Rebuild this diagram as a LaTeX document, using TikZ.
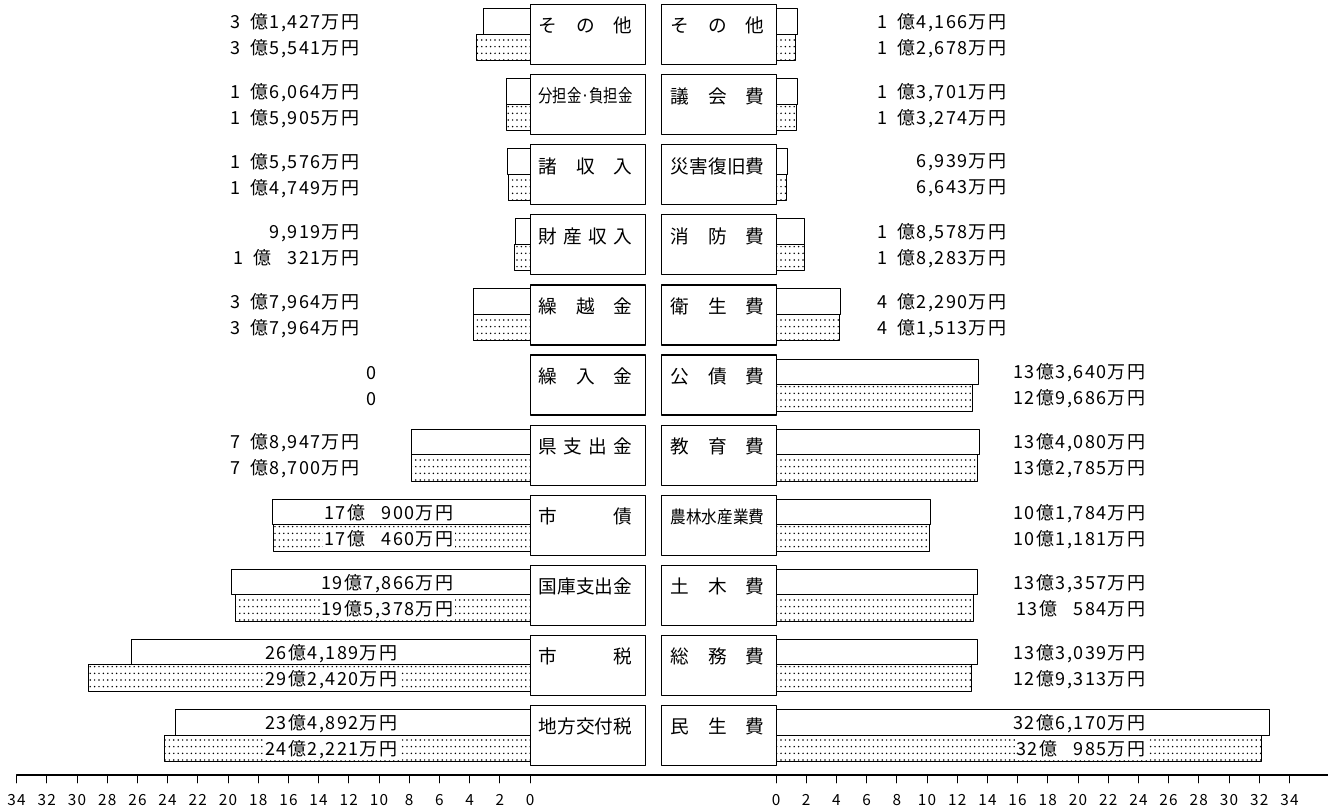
\documentclass[tikz,border=0pt]{standalone}
\usepackage{fontspec}
\setmainfont{Noto Sans CJK JP}
\newfontfamily\numfont[LetterSpace=8]{Noto Sans CJK JP}
\usepackage{graphicx}
\usetikzlibrary{patterns.meta}

\tikzdeclarepattern{
  name=bardots,
  type=uncolored,
  bottom left={(-.1pt,-.1pt)},
  top right={(3.4pt,5.1pt)},
  tile size={(3.3pt,5pt)},
  code={\fill (1.65pt,2.5pt) circle (0.62pt);}
}

\begin{document}
\begin{tikzpicture}[x=0.75pt,y=-0.75pt,line join=round,line cap=round]
			\tikzset{itembox/.style={draw,line width=0.9pt,minimum width=86.25pt,minimum height=45pt,inner sep=0pt},
				itemlab/.style={inner sep=0pt,font=\fontsize{14}{14}\selectfont},
				barwhite/.style={draw,line width=0.7pt,fill=white},
				bardotted/.style={draw,line width=0.7pt,pattern=bardots},
				amount/.style={inner sep=1pt,fill=white,font=\numfont\fontsize{13.5}{13.5}\selectfont},
				ticklab/.style={inner sep=0pt,font=\numfont\fontsize{11.5}{11.5}\selectfont}}
			\useasboundingbox (0,0) rectangle (1328,810);
			% revenue, left half
			\foreach \i/\lab/\vw/\vd/\txa/\txb/\tx/\an in {
				0/{そ\hfill の\hfill 他}/3.1427/3.5541/{3\phantom{0}億1,427万円}/{3\phantom{0}億5,541万円}/361/east,
				1/{\fontsize{13.5}{13.5}\selectfont\scalebox{0.8}[1]{分担金·負担金}}/1.6064/1.5905/{1\phantom{0}億6,064万円}/{1\phantom{0}億5,905万円}/361/east,
				2/{諸\hfill 収\hfill 入}/1.5576/1.4749/{1\phantom{0}億5,576万円}/{1\phantom{0}億4,749万円}/361/east,
				3/{財\hfill 産\hfill 収\hfill 入}/0.9919/1.0321/{9,919万円}/{1\phantom{0}億\phantom{0,}321万円}/361/east,
				4/{繰\hfill 越\hfill 金}/3.7964/3.7964/{3\phantom{0}億7,964万円}/{3\phantom{0}億7,964万円}/361/east,
				5/{繰\hfill 入\hfill 金}/0/0/0/0/371.5/center,
				6/{県\hfill 支\hfill 出\hfill 金}/7.8947/7.8700/{7\phantom{0}億8,947万円}/{7\phantom{0}億8,700万円}/361/east,
				7/{市\hfill 債}/17.0900/17.0460/{17億\phantom{0,}900万円}/{17億\phantom{0,}460万円}/455/east,
				8/{国\hfill 庫\hfill 支\hfill 出\hfill 金}/19.7866/19.5378/{19億7,866万円}/{19億5,378万円}/455/east,
				9/{市\hfill 税}/26.4189/29.2420/{26億4,189万円}/{29億2,420万円}/399/east,
				10/{地\hfill 方\hfill 交\hfill 付\hfill 税}/23.4892/24.2221/{23億4,892万円}/{24億2,221万円}/399/east}{
				\pgfmathsetmacro\ty{4.5+70.1*\i}
				\node[itembox] (L\i) at (588,\ty+30) {};
				\node[itemlab] (Lt\i) at ([xshift=-1.9pt,yshift=-16.5pt]L\i.north) {\makebox[70.5pt]{\lab}};
				\ifdim\vw pt>0pt
				\draw[barwhite] (530.5,\ty+4) rectangle ++(-\vw*15.1,25.5);
				\draw[bardotted] (530.5,\ty+29.5) rectangle ++(-\vd*15.1,26.5);
				\fi
				\node[amount,anchor=\an] (La\i) at (\tx,\ty+18) {\txa};
				\node[amount,anchor=\an] (Lb\i) at (\tx,\ty+44) {\txb};
			}
			% expenditure, right half
			\foreach \i/\lab/\vw/\vd/\txa/\txb/\tx in {
				0/{そ\hfill の\hfill 他}/1.4166/1.2678/{1\phantom{0}億4,166万円}/{1\phantom{0}億2,678万円}/1008,
				1/{議\hfill 会\hfill 費}/1.3701/1.3274/{1\phantom{0}億3,701万円}/{1\phantom{0}億3,274万円}/1008,
				2/{災\hfill 害\hfill 復\hfill 旧\hfill 費}/0.6939/0.6643/{6,939万円}/{6,643万円}/1008,
				3/{消\hfill 防\hfill 費}/1.8578/1.8283/{1\phantom{0}億8,578万円}/{1\phantom{0}億8,283万円}/1008,
				4/{衛\hfill 生\hfill 費}/4.2290/4.1513/{4\phantom{0}億2,290万円}/{4\phantom{0}億1,513万円}/1008,
				5/{公\hfill 債\hfill 費}/13.3640/12.9686/{13億3,640万円}/{12億9,686万円}/1147,
				6/{教\hfill 育\hfill 費}/13.4080/13.2785/{13億4,080万円}/{13億2,785万円}/1147,
				7/{\fontsize{13}{13}\selectfont\scalebox{0.9}[1]{農林水産業費}}/10.1784/10.1181/{10億1,784万円}/{10億1,181万円}/1147,
				8/{土\hfill 木\hfill 費}/13.3357/13.0584/{13億3,357万円}/{13億\phantom{0,}584万円}/1147,
				9/{総\hfill 務\hfill 費}/13.3039/12.9313/{13億3,039万円}/{12億9,313万円}/1147,
				10/{民\hfill 生\hfill 費}/32.6170/32.0985/{32億6,170万円}/{32億\phantom{0,}985万円}/1147}{
				\pgfmathsetmacro\ty{4.5+70.1*\i}
				\node[itembox] (R\i) at (719,\ty+30) {};
				\node[itemlab] (Rt\i) at ([xshift=-1.1pt,yshift=-16.5pt]R\i.north) {\makebox[70.5pt]{\lab}};
				\draw[barwhite] (776.5,\ty+4) rectangle ++(\vw*15.1,25.5);
				\draw[bardotted] (776.5,\ty+29.5) rectangle ++(\vd*15.1,26.5);
				\node[amount,anchor=east] (Ra\i) at (\tx,\ty+18) {\txa};
				\node[amount,anchor=east] (Rb\i) at (\tx,\ty+44) {\txb};
			}
			% scale
			\coordinate (axL) at (16.6,775);
			\coordinate (axR) at (1328,775);
			\draw[line width=0.9pt] (axL)--(axR);
			\foreach \v in {0,2,...,34}{
				\draw[line width=0.7pt] (530-\v*15.1,775)--(530-\v*15.1,783);
				\node[ticklab] (sl\v) at (530-\v*15.1,800) {\v};
				\draw[line width=0.7pt] (776+\v*15.1,775)--(776+\v*15.1,783);
				\node[ticklab] (sr\v) at (776+\v*15.1,800) {\v};
			}
\end{tikzpicture}
\end{document}
